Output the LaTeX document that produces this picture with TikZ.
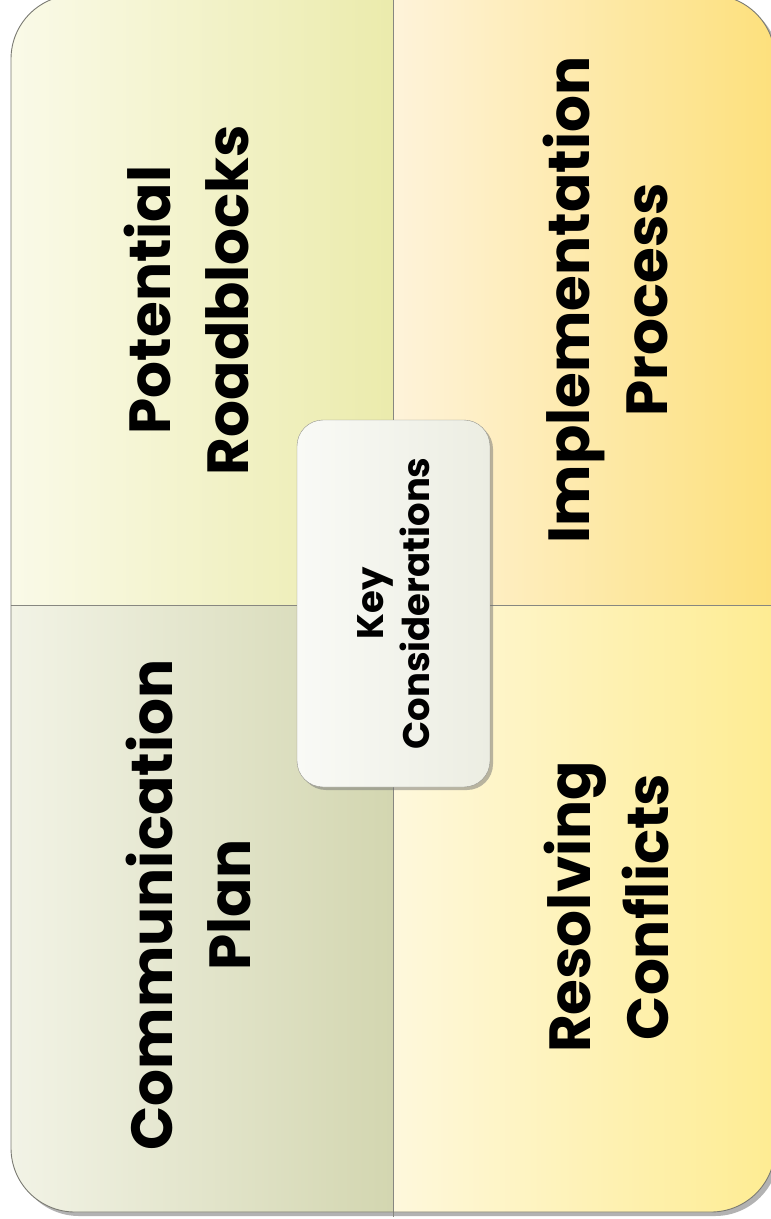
\documentclass[tikz,border=0pt]{standalone}
\usepackage{fontspec}
\setmainfont{Poppins}
\usetikzlibrary{positioning, shadows}
\definecolor{roadL}{HTML}{FAFAE8}
\definecolor{roadR}{HTML}{EBEBAC}
\definecolor{implL}{HTML}{FEF3DA}
\definecolor{implR}{HTML}{FDE07C}
\definecolor{commL}{HTML}{F2F3E6}
\definecolor{commR}{HTML}{D3D6B0}
\definecolor{resoL}{HTML}{FEF8DC}
\definecolor{resoR}{HTML}{FEEC92}
\definecolor{keyL}{HTML}{F9FAF6}
\definecolor{keyR}{HTML}{ECEDE2}
\definecolor{rim}{HTML}{7A7A72}
\tikzset{
    quad/.style={draw=none, inner sep=0pt, minimum width=382pt, minimum height=612pt}, % one of the four fields
    bigtext/.style={rotate=90, align=center, font=\fontsize{58}{78}\selectfont\bfseries}, % field titles
    keybox/.style={draw=rim!80, rounded corners=26pt, minimum width=193pt, minimum height=367pt,
        left color=keyL, right color=keyR, drop shadow={shadow xshift=3pt, shadow yshift=-3pt, fill=black!55}},
    keytext/.style={rotate=90, align=center, font=\fontsize{37}{46}\selectfont\bfseries},
    divider/.style={draw=rim!90, line width=0.9pt},
}
\begin{document}
\begin{tikzpicture}[x=1pt, y=-1pt]
    \useasboundingbox (0,0) rectangle (771,1219);
    % frame with its shadow
    \path[fill=white, rounded corners=64pt, drop shadow={shadow xshift=4pt, shadow yshift=-4pt, fill=black!60}]
        (11,-5) rectangle (775,1212);
    \begin{scope}
        \clip[rounded corners=64pt] (11,-5) rectangle (775,1212);
        \node[quad, left color=roadL, right color=roadR, anchor=south east] (roadQ) at (393,605) {};
        \node[quad, left color=implL, right color=implR, anchor=south west] (implQ) at (393,605) {};
        \node[quad, left color=commL, right color=commR, anchor=north east] (commQ) at (393,605) {};
        \node[quad, left color=resoL, right color=resoR, anchor=north west] (resoQ) at (393,605) {};
    \end{scope}
    \draw[divider] (roadQ.north east) -- (commQ.south east);
    \draw[divider] (commQ.north west) -- (resoQ.north east);
    \draw[rim, line width=0.9pt, rounded corners=64pt] (11,-5) rectangle (775,1212);

    \node[bigtext] (road) at (187,300) {Potential\\Roadblocks};
    \node[bigtext] (impl) at (605,300) {Implementation\\Process};
    \node[bigtext] (comm) at (189,905) {Communication\\Plan};
    \node[bigtext] (reso) at (606,907) {Resolving\\Conflicts};

    \node[keybox] (key) at (393.5,603.5) {};
    \node[keytext] (keyT) at (key.center) {Key\\Considerations};
\end{tikzpicture}
\end{document}
